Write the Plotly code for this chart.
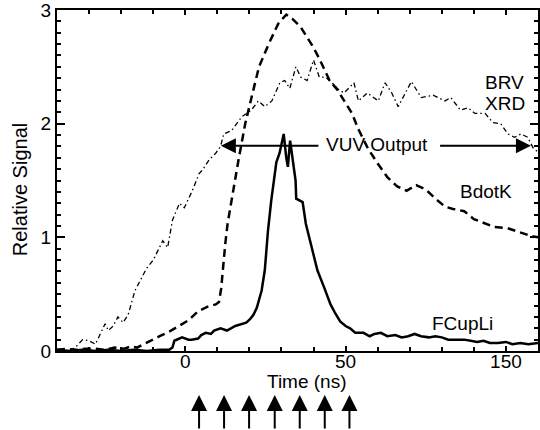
import plotly.graph_objects as go

# ---- data ----
bdotk_t = [-40, -37, -34, -31, -28, -25, -22, -19, -17, -15, -13, -11, -8, -5, -2, 1, 4, 7, 9.5, 10.5,
           11.2, 11.8, 12.5, 13.2, 14.2, 15.2, 16.6, 18.7, 21, 23, 26, 29, 31.5, 33.5, 36, 38, 40, 42,
           45, 47.4, 49.5, 52, 54, 57, 60, 63, 66, 69, 72, 75, 78, 81, 83.5, 87, 90, 93, 96.5, 100.5,
           104.5, 108, 110]
bdotk_y = [0.01, 0.02, 0.01, 0.02, 0.02, 0.01, 0.03, 0.02, 0.04, 0.03, 0.06, 0.09, 0.13, 0.17, 0.22,
           0.27, 0.35, 0.39, 0.41, 0.43, 0.55, 0.75, 0.95, 1.12, 1.30, 1.45, 1.68, 2.0, 2.27, 2.5, 2.7,
           2.88, 2.96, 2.92, 2.85, 2.76, 2.67, 2.56, 2.38, 2.30, 2.20, 2.09, 1.95, 1.78, 1.65, 1.53,
           1.45, 1.41, 1.46, 1.42, 1.34, 1.27, 1.25, 1.23, 1.16, 1.13, 1.09, 1.08, 1.04, 1.01, 1.0]

fcup_t = [-40, -36, -32, -28, -24, -20, -16, -12, -8, -5, -4, -3.4, -1, 1, 2, 4, 5, 6.4, 8, 9, 11, 13,
          15.6, 17.6, 19, 20.2, 21.3, 22.3, 23.3, 23.8, 24.8, 25.8, 26.8, 27.7, 28.4, 29.4, 30.7, 31.5,
          32.0, 32.7, 33.5, 34.4, 34.6, 36.6, 37.6, 39.7, 41.2, 43.3, 45.3, 46.8, 48.3, 50, 51.4, 53,
          55.6, 57.5, 59, 61, 63, 65.5, 67.5, 69.5, 71.5, 73.5, 76, 78, 80, 82, 84.5, 87, 89, 91, 93,
          95, 97.5, 100, 102, 104.5, 107, 110]
fcup_y = [0.01, 0.0, 0.01, 0.0, 0.01, 0.0, 0.01, 0.0, 0.01, 0.01, 0.03, 0.09, 0.12, 0.10, 0.10, 0.11,
          0.14, 0.16, 0.15, 0.18, 0.20, 0.18, 0.22, 0.24, 0.25, 0.28, 0.32, 0.38, 0.48, 0.53, 0.71,
          1.06, 1.32, 1.5, 1.66, 1.74, 1.91, 1.70, 1.62, 1.85, 1.70, 1.50, 1.34, 1.31, 1.12, 0.88,
          0.71, 0.56, 0.41, 0.33, 0.26, 0.22, 0.20, 0.16, 0.16, 0.13, 0.15, 0.16, 0.13, 0.14, 0.12,
          0.13, 0.15, 0.13, 0.12, 0.13, 0.12, 0.10, 0.10, 0.10, 0.09, 0.08, 0.09, 0.07, 0.07, 0.08,
          0.06, 0.07, 0.06, 0.07]

brv_t = [-36, -34, -32, -30, -28, -26.5, -25, -24, -22.5, -21, -19.4, -17.8, -15.7, -13.5, -12, -10,
         -8, -7, -5.5, -4, -1.8, -0.3, 2.2, 4.3, 5.3, 7.4, 9.5, 11, 12, 14.5, 17.6, 20.6, 22.8, 24.8,
         27, 29.5, 31, 32.6, 34.5, 36, 38, 40, 41.8, 43.7, 45.8, 47.4, 49.5, 52.6, 54, 56.8, 60.2,
         62.3, 64.4, 66.4, 70.5, 73.6, 77.3, 81, 82.8, 85.8, 88.2, 90.3, 93.5, 95.9, 98.4, 100.6,
         102.7, 104.7, 106.8, 108.4, 110]
brv_y = [0.0, 0.04, 0.10, 0.09, 0.06, 0.15, 0.24, 0.18, 0.22, 0.30, 0.25, 0.32, 0.53, 0.65, 0.73, 0.80,
         0.91, 0.97, 0.91, 1.15, 1.30, 1.26, 1.41, 1.56, 1.59, 1.68, 1.74, 1.80, 1.91, 1.94, 2.06,
         2.12, 2.20, 2.15, 2.20, 2.36, 2.38, 2.31, 2.50, 2.41, 2.38, 2.56, 2.41, 2.41, 2.36, 2.31,
         2.27, 2.36, 2.20, 2.27, 2.20, 2.36, 2.27, 2.15, 2.37, 2.23, 2.25, 2.20, 2.23, 2.12, 2.14,
         2.09, 2.09, 2.01, 2.00, 1.91, 1.88, 1.91, 1.88, 1.79, 1.75]

x_tickvals = [0, 50, 100]
x_ticktext = ["0", "50", "150"]
y_tickvals = [0, 1, 2, 3]
y_ticktext = ["0", "1", "2", "3"]

pulse_times = [4.3, 12.1, 19.9, 27.9, 35.7, 43.5, 51.2]

vuv_left, vuv_right, vuv_level = 11.1, 107.8, 1.806

labels = [("BRV", 99.7, 2.36), ("XRD", 99.7, 2.18), ("BdotK", 93.8, 1.40), ("FCupLi", 86.3, 0.245)]

FONT = "Liberation Sans, Arial, Helvetica, sans-serif"

fig = go.Figure()
fig.add_trace(go.Scatter(x=brv_t, y=brv_y, mode="lines",
                         line=dict(color="black", width=1.3, dash="5px,3px,1.5px,3px")))
fig.add_trace(go.Scatter(x=bdotk_t, y=bdotk_y, mode="lines",
                         line=dict(color="black", width=2.5, dash="8px,5px")))
fig.add_trace(go.Scatter(x=fcup_t, y=fcup_y, mode="lines",
                         line=dict(color="black", width=2.5)))

ann = []
for txt, tx, ty in labels:
    ann.append(dict(x=tx, y=ty, xref="x", yref="y", text=txt, showarrow=False,
                    xanchor="center", yanchor="middle",
                    font=dict(size=19, color="black", family=FONT)))

ann.append(dict(x=59.8, y=1.82, xref="x", yref="y", text="VUV Output", showarrow=False,
                xanchor="center", yanchor="middle",
                font=dict(size=19, color="black", family=FONT)))
ann.append(dict(x=vuv_left, y=vuv_level, ax=42, ay=vuv_level, xref="x", yref="y",
                axref="x", ayref="y", text="", showarrow=True, arrowhead=2, arrowsize=1.5,
                arrowwidth=2, arrowcolor="black"))
ann.append(dict(x=vuv_right, y=vuv_level, ax=79, ay=vuv_level, xref="x", yref="y",
                axref="x", ayref="y", text="", showarrow=True, arrowhead=2, arrowsize=1.5,
                arrowwidth=2, arrowcolor="black"))

for pt in pulse_times:
    ann.append(dict(x=pt, y=-0.129, xref="x", yref="paper", ax=0, ay=42, text="",
                    showarrow=True, arrowhead=2, arrowsize=1.6, arrowwidth=2, arrowcolor="black"))

ann.append(dict(x=0.52, y=-0.088, xref="paper", yref="paper", text="Time (ns)", showarrow=False,
                xanchor="center", yanchor="middle",
                font=dict(size=19, color="black", family=FONT)))
ann.append(dict(x=-0.0766, y=0.472, xref="paper", yref="paper", text="Relative Signal",
                showarrow=False, textangle=-90, xanchor="center", yanchor="middle",
                font=dict(size=20, color="black", family=FONT)))

fig.update_layout(
    width=540, height=430,
    margin=dict(l=57, r=0, t=10, b=79, pad=0),
    paper_bgcolor="white", plot_bgcolor="white",
    showlegend=False,
    annotations=ann,
    font=dict(family=FONT, size=19, color="black"),
    xaxis=dict(range=[-40, 110], showline=True, linewidth=2, linecolor="black",
               mirror="allticks", ticks="inside", ticklen=5, tickwidth=1.5, tickcolor="black",
               tickvals=x_tickvals, ticktext=x_ticktext, showgrid=False, zeroline=False,
               ticklabelstandoff=-8, ticklabeloverflow="allow",
               tickfont=dict(size=19, family=FONT, color="black"),
               minor=dict(dtick=10, tick0=0, ticks="inside", ticklen=4, tickwidth=1.5,
                          tickcolor="black", showgrid=False)),
    yaxis=dict(range=[0, 3], showline=True, linewidth=2, linecolor="black",
               mirror="allticks", ticks="inside", ticklen=8, tickwidth=1.5, tickcolor="black",
               tickvals=y_tickvals, ticktext=y_ticktext, showgrid=False, zeroline=False,
               ticklabeloverflow="allow",
               tickfont=dict(size=19, family=FONT, color="black"),
               minor=dict(dtick=0.1, tick0=0, ticks="inside", ticklen=4, tickwidth=1.5,
                          tickcolor="black", showgrid=False)),
)

fig.write_html("out.html")
